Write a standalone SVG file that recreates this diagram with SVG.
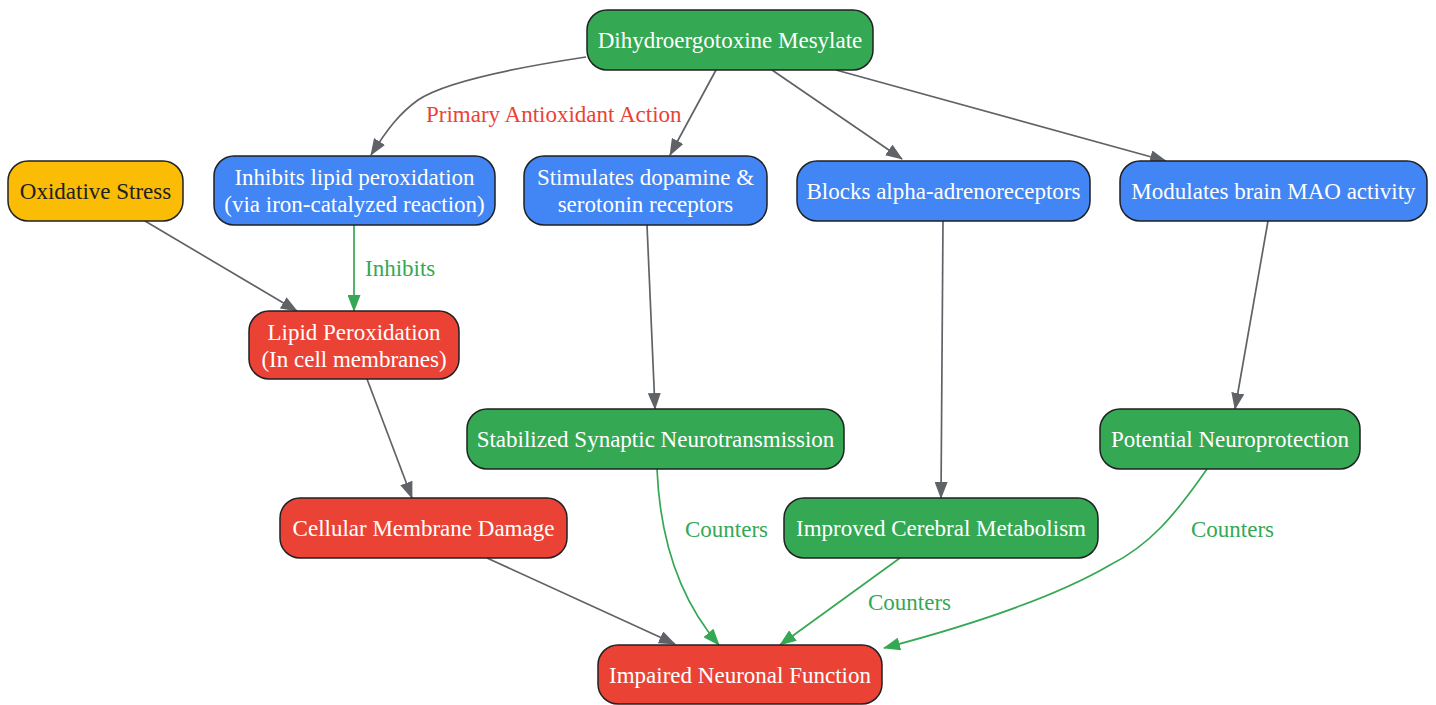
<svg xmlns="http://www.w3.org/2000/svg" width="1436" height="705" viewBox="0 0 1436 705">
<style>
  .node rect { stroke: #202124; stroke-width: 1.5; }
  .green rect { fill: #34A853; }
  .blue rect { fill: #4285F4; }
  .red rect { fill: #EA4335; }
  .yellow rect { fill: #FBBC05; }
  .node text { font-family: "Liberation Serif", "Times New Roman", serif; font-size: 23px; fill: #ffffff; text-anchor: middle; }
  .yellow text { fill: #202124; }
  .edge { fill: none; stroke-width: 1.7; }
  .gray { stroke: #5F6368; }
  .grn { stroke: #34A853; }
  .lbl { font-family: "Liberation Serif", "Times New Roman", serif; font-size: 23px; }
</style>
<defs>
  <marker id="ag" markerUnits="userSpaceOnUse" markerWidth="17" markerHeight="13" viewBox="0 0 17 13" refX="16" refY="6.5" orient="auto">
    <path d="M0,0 L17,6.5 L0,13 z" fill="#5F6368"/>
  </marker>
  <marker id="agr" markerUnits="userSpaceOnUse" markerWidth="17" markerHeight="13" viewBox="0 0 17 13" refX="16" refY="6.5" orient="auto">
    <path d="M0,0 L17,6.5 L0,13 z" fill="#34A853"/>
  </marker>
</defs>
<rect width="1436" height="705" fill="#ffffff"/>
<g id="connectors">
  <path class="edge gray" d="M586,57 C500,70 440,85 418,100 C400,113 388,128 371,155" marker-end="url(#ag)"/>
  <path class="edge gray" d="M716,70 L670,155" marker-end="url(#ag)"/>
  <path class="edge gray" d="M772,70 L902,159" marker-end="url(#ag)"/>
  <path class="edge gray" d="M836,70 L1166,161" marker-end="url(#ag)"/>
  <path class="edge gray" d="M145,221 L297,311" marker-end="url(#ag)"/>
  <path class="edge grn" d="M354,225 L354,311" marker-end="url(#agr)"/>
  <path class="edge gray" d="M647,225 L655,409" marker-end="url(#ag)"/>
  <path class="edge gray" d="M943,221 L941,498" marker-end="url(#ag)"/>
  <path class="edge gray" d="M1268,221 L1235,409" marker-end="url(#ag)"/>
  <path class="edge gray" d="M367,379 L412,498" marker-end="url(#ag)"/>
  <path class="edge grn" d="M657,469 C660,540 680,600 719,645" marker-end="url(#agr)"/>
  <path class="edge grn" d="M900,558 L780,645" marker-end="url(#agr)"/>
  <path class="edge grn" d="M1207,469 C1175,515 1150,545 1110,565 C1050,600 960,628 884,648" marker-end="url(#agr)"/>
  <path class="edge gray" d="M487,558 L675,644" marker-end="url(#ag)"/>
  <text class="lbl" x="426" y="122" fill="#EA4335">Primary Antioxidant Action</text>
  <text class="lbl" x="365" y="276" fill="#34A853">Inhibits</text>
  <text class="lbl" x="685" y="537" fill="#34A853">Counters</text>
  <text class="lbl" x="868" y="610" fill="#34A853">Counters</text>
  <text class="lbl" x="1191" y="537" fill="#34A853">Counters</text>
</g>
<g id="n_dihydro" class="node green">
  <rect x="587" y="10" width="286" height="60" rx="20"/>
  <text x="730" y="48">Dihydroergotoxine Mesylate</text>
</g>
<g id="n_oxidative" class="node yellow">
  <rect x="8" y="161" width="175" height="60" rx="20"/>
  <text x="95.5" y="199">Oxidative Stress</text>
</g>
<g id="n_inhibits" class="node blue">
  <rect x="214" y="156" width="281" height="69" rx="20"/>
  <text x="354.5" y="185">Inhibits lipid peroxidation</text>
  <text x="354.5" y="212">(via iron-catalyzed reaction)</text>
</g>
<g id="n_stimulates" class="node blue">
  <rect x="524" y="156" width="243" height="69" rx="20"/>
  <text x="645.5" y="185">Stimulates dopamine &amp;</text>
  <text x="645.5" y="212">serotonin receptors</text>
</g>
<g id="n_blocks" class="node blue">
  <rect x="797" y="161" width="293" height="60" rx="20"/>
  <text x="943.5" y="199">Blocks alpha-adrenoreceptors</text>
</g>
<g id="n_modulates" class="node blue">
  <rect x="1120" y="161" width="307" height="60" rx="20"/>
  <text x="1273.5" y="199">Modulates brain MAO activity</text>
</g>
<g id="n_lipid" class="node red">
  <rect x="249" y="311" width="210" height="68" rx="20"/>
  <text x="354" y="340">Lipid Peroxidation</text>
  <text x="354" y="367">(In cell membranes)</text>
</g>
<g id="n_stabilized" class="node green">
  <rect x="467" y="409" width="377" height="60" rx="20"/>
  <text x="655.5" y="447">Stabilized Synaptic Neurotransmission</text>
</g>
<g id="n_potential" class="node green">
  <rect x="1100" y="409" width="260" height="60" rx="20"/>
  <text x="1230" y="447">Potential Neuroprotection</text>
</g>
<g id="n_cellular" class="node red">
  <rect x="280" y="498" width="287" height="60" rx="20"/>
  <text x="423.5" y="536">Cellular Membrane Damage</text>
</g>
<g id="n_improved" class="node green">
  <rect x="784" y="498" width="314" height="60" rx="20"/>
  <text x="941" y="536">Improved Cerebral Metabolism</text>
</g>
<g id="n_impaired" class="node red">
  <rect x="598" y="645" width="284" height="59" rx="20"/>
  <text x="740" y="683">Impaired Neuronal Function</text>
</g>
</svg>
